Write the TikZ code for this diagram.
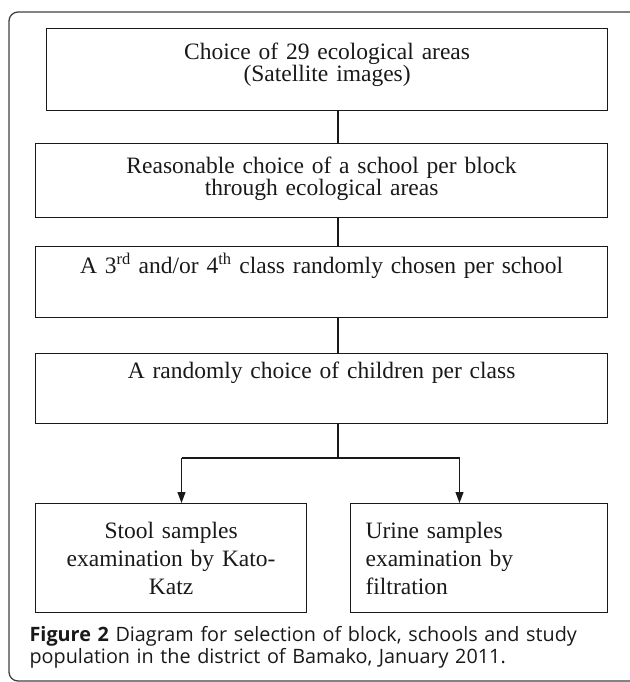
\documentclass[tikz,border=0pt]{standalone}
\usepackage{fontspec}
\setmainfont{Liberation Serif}
\newfontfamily\capfont{Open Sans}
\usetikzlibrary{arrows.meta,positioning}
\usetikzlibrary{calc}

\begin{document}
\begin{tikzpicture}[x=1pt,y=-1pt,line width=1.2pt,
  box/.style={draw=black!90,rectangle,anchor=north west,inner xsep=0pt,inner ysep=0pt,
    align=center,font=\fontsize{23.5}{22}\selectfont,text=black!90}]
\useasboundingbox (0,0) rectangle (629,682);
% outer frame, cut by the page on the right and at the bottom
\draw[black!75,line width=1.3pt,rounded corners=9pt] (9,12) rectangle (640,681);
\def\trunk{338}
\coordinate (T) at (\trunk,0);
\node[box,text width=561pt,text height=31pt,text depth=51pt] (b1) at (46,28)
  {Choice of 29 ecological areas\\(Satellite images)};
\node[box,text width=572pt,text height=30pt,text depth=44pt] (b2) at (35,143)
  {Reasonable choice of a school per block\\through ecological areas};
\node[box,text width=572pt,text height=27pt,text depth=44pt] (b3) at (35,246)
  {A 3\textsuperscript{rd} and/or 4\textsuperscript{th} class randomly chosen per school};
\node[box,text width=572pt,text height=25pt,text depth=45pt] (b4) at (35,353)
  {A randomly choice of children per class};
\node[box,text width=271pt,text height=35pt,text depth=74pt,
  font=\fontsize{23.5}{28}\selectfont] (b5) at (35,503)
  {Stool samples\\examination by Kato-\\Katz};
\node[box,text width=227pt,inner xsep=15pt,text height=35pt,text depth=74pt,align=left,
  font=\fontsize{23.5}{28}\selectfont] (b6) at (350,503)
  {Urine samples\\examination by\\filtration};
\foreach \a/\b in {b1/b2,b2/b3,b3/b4} {
  \draw[black!90] (\a.south -| T) -- (\b.north -| T);
}
\coordinate (J) at (\trunk,458);
\coordinate (L) at (181.5,458);
\coordinate (R) at (459.5,458);
\draw[black!90] (b4.south -| T) -- (J);
\draw[black!90] (L) -- (R);
\foreach \x/\y in {L/b5,R/b6} {
  \draw[black!90,-{Triangle[length=11pt,width=8pt]}] (\x) -- (\x |- \y.north);
}
\node[anchor=base west,align=left,text width=595pt,inner sep=0pt,text=black!90,
  font=\capfont\fontsize{19.8}{22}\selectfont] (cap) at (29,641)
  {\textbf{Figure 2} Diagram for selection of block, schools and study\\population in the district of Bamako, January 2011.};
\end{tikzpicture}
\end{document}
